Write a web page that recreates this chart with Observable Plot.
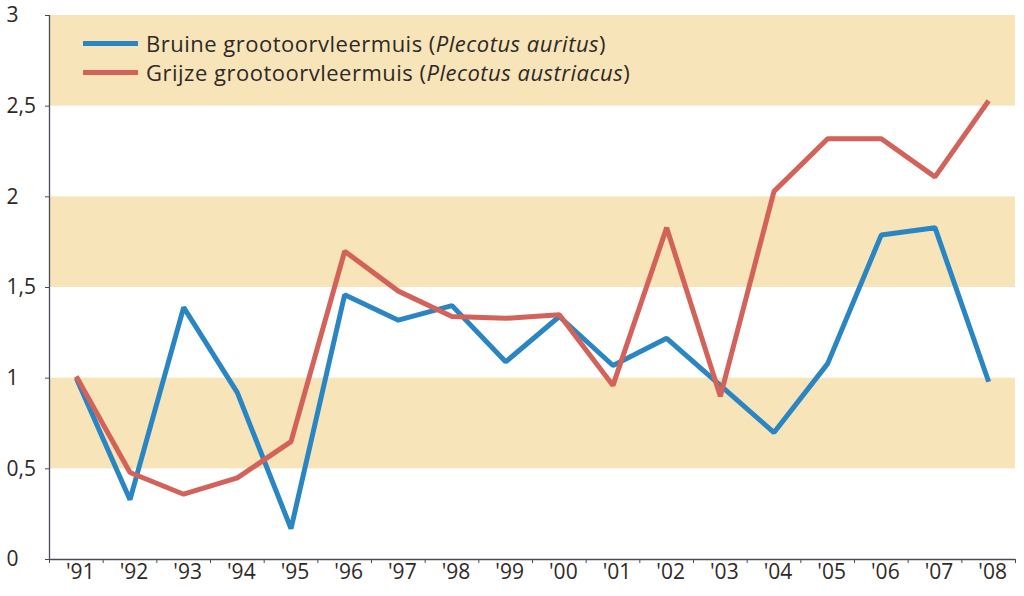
<!DOCTYPE html>
<html>
<head>
<meta charset="utf-8">
<script src="https://cdn.jsdelivr.net/npm/d3@7"></script>
<script src="https://cdn.jsdelivr.net/npm/@observablehq/plot@0.6"></script>
<style>
  body { margin: 0; background: #fff; }
  #wrap { position: relative; width: 1024px; height: 596px; font-family: "Open Sans", sans-serif; }
  #legend { position: absolute; left: 83px; top: 29px; font-size: 22px; letter-spacing: 0.5px; color: #2e2926; line-height: 29px; }
  #legend .row { display: flex; align-items: center; white-space: nowrap; }
  #legend .sw { width: 55px; height: 5px; margin-right: 8px; }
</style>
</head>
<body>
<div id="wrap"><div id="legend"></div></div>
<script>
const years = ["'91","'92","'93","'94","'95","'96","'97","'98","'99","'00","'01","'02","'03","'04","'05","'06","'07","'08"];
const bruine = [1.00, 0.33, 1.39, 0.92, 0.17, 1.46, 1.32, 1.40, 1.09, 1.34, 1.07, 1.22, 0.96, 0.70, 1.08, 1.79, 1.83, 0.98];
const grijze = [1.01, 0.48, 0.36, 0.45, 0.65, 1.70, 1.48, 1.34, 1.33, 1.35, 0.96, 1.83, 0.90, 2.03, 2.32, 2.32, 2.11, 2.53];
const seriesNames = ["Bruine grootoorvleermuis", "Grijze grootoorvleermuis"];
const latinNames = ["Plecotus auritus", "Plecotus austriacus"];
const colors = ["#2a86c2", "#d2625a"];
const bandLow = [0.5, 1.5, 2.5];
const bandHigh = [1.0, 2.0, 3.0];
const yTicks = [0, 0.5, 1, 1.5, 2, 2.5, 3];

const bands = bandLow.map((lo, i) => ({lo, hi: bandHigh[i]}));
const rows = [];
years.forEach((y, i) => {
  rows.push({i: i + 0.5, v: bruine[i], s: seriesNames[0]});
});
years.forEach((y, i) => {
  rows.push({i: i + 0.5, v: grijze[i], s: seriesNames[1]});
});
const ink = "#2e2926";
const axisColor = "#4b4b58";

const chart = Plot.plot({
  width: 1024,
  height: 596,
  marginLeft: 49,
  marginRight: 9,
  marginTop: 15,
  marginBottom: 37,
  style: {fontFamily: "Open Sans, sans-serif", fontSize: "21px", color: ink, background: "transparent"},
  x: {type: "linear", domain: [0, years.length], axis: null},
  y: {domain: [0, 3], axis: null},
  color: {domain: seriesNames, range: colors},
  marks: [
    Plot.rect(bands, {y1: "lo", y2: "hi", fill: "#f7e4b8"}),
    Plot.ruleX([0], {stroke: axisColor, strokeWidth: 1.3}),
    Plot.ruleY([0], {stroke: axisColor, strokeWidth: 1.3}),
    Plot.axisY({ticks: yTicks, tickSize: 4, tickPadding: 39, textAnchor: "start", stroke: axisColor, label: null,
      fill: ink, fontSize: 21, tickFormat: d => String(d).replace(".", ",")}),
    Plot.axisX({ticks: d3.range(years.length + 1), tickSize: 4, tickFormat: () => "", stroke: axisColor, label: null}),
    Plot.axisX({ticks: d3.range(years.length).map(i => i + 0.5), tickSize: 0, tickPadding: 5, dx: 4, label: null,
      fill: ink, fontSize: 21, tickFormat: d => years[Math.round(d - 0.5)]}),
    Plot.line(rows, {x: "i", y: "v", z: "s", stroke: "s", strokeWidth: 5, strokeLinejoin: "miter", strokeLinecap: "butt"})
  ]
});
document.getElementById("wrap").prepend(chart);

const legend = document.getElementById("legend");
seriesNames.forEach((n, k) => {
  const row = document.createElement("div");
  row.className = "row";
  row.innerHTML = `<span class="sw" style="background:${colors[k]}"></span><span>${n} (<i>${latinNames[k]}</i>)</span>`;
  legend.appendChild(row);
});
</script>
</body>
</html>
